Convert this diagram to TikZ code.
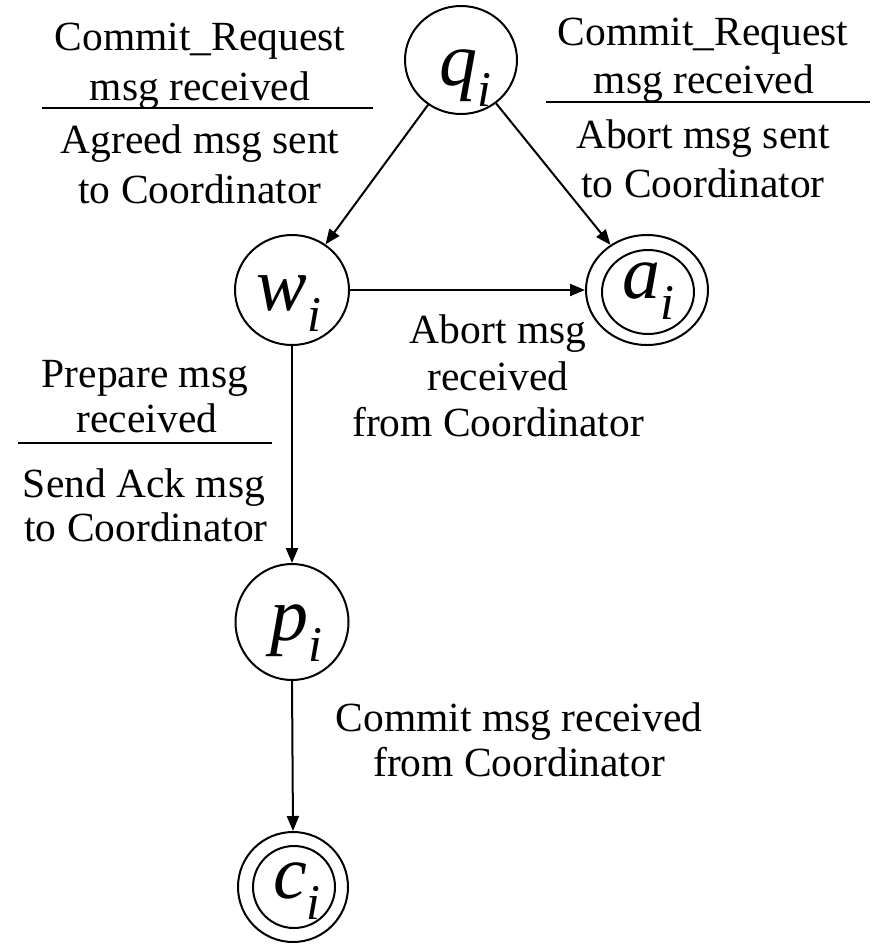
\documentclass[tikz,border=0pt]{standalone}
\usepackage{fontspec}
\setmainfont{Liberation Serif}
\usetikzlibrary{shapes.geometric,arrows.meta}
\newcommand{\stlabel}[1]{\fontsize{76}{76}\selectfont\itshape #1\raisebox{-0.28em}{\fontsize{50}{50}\selectfont i}}
\begin{document}
\begin{tikzpicture}[x=1pt,y=-1pt,
  state/.style={ellipse,draw,line width=2pt,inner sep=0pt},
  slbl/.style={anchor=base,inner sep=0pt},
  lbl/.style={anchor=base,inner sep=0pt,font=\fontsize{41.5}{50}\selectfont},
  conn/.style={line width=2pt,-{Triangle[length=15pt,width=12pt]}},
  rule/.style={line width=2pt}]
\useasboundingbox (0,0) rectangle (871,946);
% states
\node[state,minimum width=112pt,minimum height=108pt] (q) at (461,60) {};
\node[state,minimum width=114pt,minimum height=110pt] (w) at (292,290) {};
\node[state,minimum width=122pt,minimum height=110pt] (a) at (647,290) {};
\node[state,minimum width=92pt,minimum height=84pt] (ain) at (648,292) {};
\node[state,minimum width=113pt,minimum height=116pt] (p) at (292,622) {};
\node[state,minimum width=110pt,minimum height=110pt] (c) at (293,887) {};
\node[state,minimum width=82pt,minimum height=82pt] (cin) at (294,887) {};
% state labels
\node[slbl] (qt) at (465,85) {\stlabel{q}};
\node[slbl] (wt) at (289,310) {\stlabel{w}};
\node[slbl] (at) at (648,298) {\stlabel{a}};
\node[slbl] (pt) at (296,640) {\stlabel{p}};
\node[slbl] (ct) at (297,898) {\stlabel{c}};
% connectors
\draw[conn] (q) -- (w);
\draw[conn] (q) -- (a);
\draw[conn] (w.east) -- (a.west);
\draw[conn] (w.south) -- (p.north);
\draw[conn] (p.south) -- (c.north);
% left top label
\node[lbl] (l1) at (200,50) {Commit\_Request};
\node[lbl] (l2) at (200,100) {msg received};
\node[lbl] (l3) at (200,153) {Agreed msg sent};
\node[lbl] (l4) at (200,203) {to Coordinator};
\draw[rule] (42,108) -- (373,108);
% right top label
\node[lbl] (r1) at (703,45) {Commit\_Request};
\node[lbl] (r2) at (704,93) {msg received};
\node[lbl] (r3) at (703,148) {Abort msg sent};
\node[lbl] (r4) at (703,197) {to Coordinator};
\draw[rule] (546,102) -- (870,102);
% middle label
\node[lbl] (m1) at (498,343) {Abort msg};
\node[lbl] (m2) at (498,390) {received};
\node[lbl] (m3) at (498,436) {from Coordinator};
% left middle label
\node[lbl] (s1) at (145,387) {Prepare msg};
\node[lbl] (s2) at (147,432) {received};
\node[lbl] (s3) at (144,497) {Send Ack msg};
\node[lbl] (s4) at (146,541) {to Coordinator};
\draw[rule] (18,443) -- (272,443);
% bottom label
\node[lbl] (b1) at (519,731) {Commit msg received};
\node[lbl] (b2) at (519,776) {from Coordinator};
\end{tikzpicture}
\end{document}
